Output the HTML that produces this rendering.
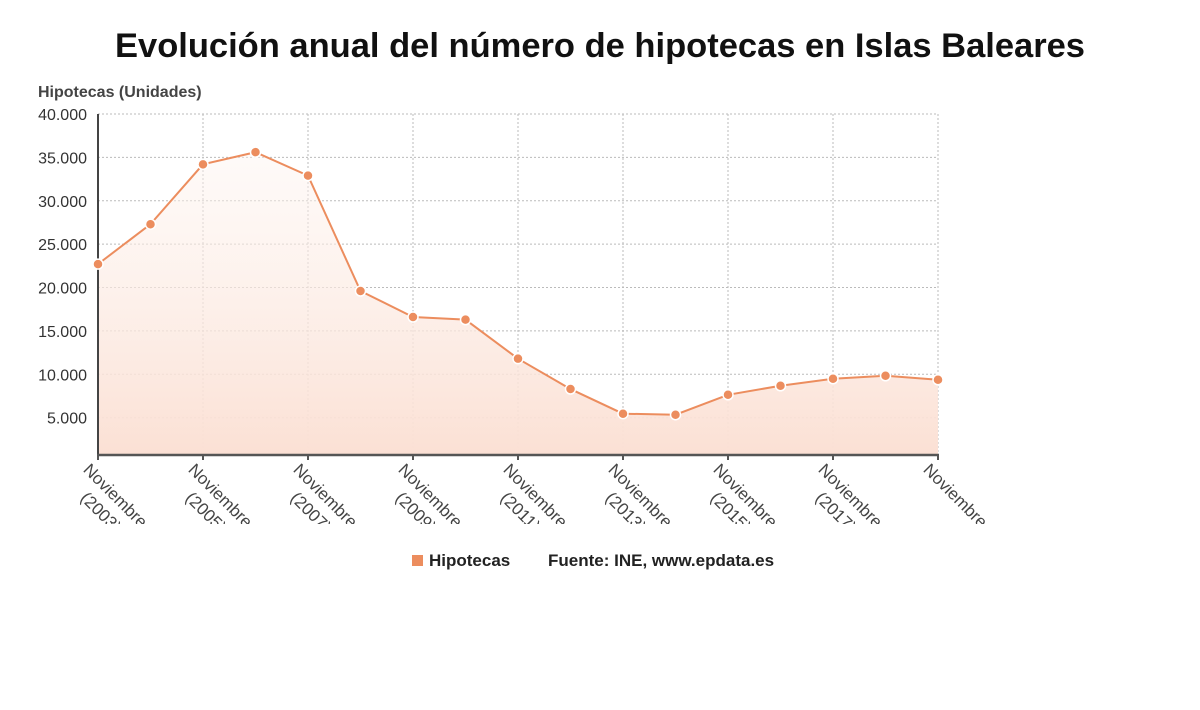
<!DOCTYPE html>
<html><head><meta charset="utf-8"><style>
body{margin:0;background:#fff;width:1200px;height:705px;overflow:hidden;font-family:"Liberation Sans",sans-serif}
</style></head><body>
<svg id="c" width="1200" height="705">
<defs>
<linearGradient id="g" x1="0" y1="0" x2="0" y2="1"><stop offset="0" stop-color="#fdf3ee" stop-opacity="0.4"/><stop offset="1" stop-color="#fbe0d4"/></linearGradient>
<clipPath id="lc"><rect x="0" y="456" width="1200" height="68"/></clipPath>
</defs>
<text x="600" y="57" text-anchor="middle" font-size="34" font-weight="bold" fill="#111" textLength="970" lengthAdjust="spacingAndGlyphs">Evolución anual del número de hipotecas en Islas Baleares</text>
<text x="38" y="97" font-size="16" font-weight="600" fill="#444">Hipotecas (Unidades)</text>
<g id="grid"></g><g id="plot"></g><g id="xl" clip-path="url(#lc)"></g>
<g>
<rect x="412" y="555" width="11" height="11" fill="#ec8d5e"/>
<text x="429" y="566" font-size="17" font-weight="600" fill="#222">Hipotecas</text>
<text x="548" y="566" font-size="17" font-weight="600" fill="#222">Fuente: INE, www.epdata.es</text>
</g>
</svg>
<script>
const years=[2003,2004,2005,2006,2007,2008,2009,2010,2011,2012,2013,2014,2015,2016,2017,2018,2019];
const values=[22700,27300,34200,35600,32900,19600,16600,16300,11800,8300,5460,5340,7640,8680,9490,9830,9370];
const yTicks=[5000,10000,15000,20000,25000,30000,35000,40000];
const xLabelYears=[2003,2005,2007,2009,2011,2013,2015,2017,2019];
const NS='http://www.w3.org/2000/svg';
const X0=98,X1=938,Y0=455,Y40=114,yMin=700;
const xs=i=>X0+(X1-X0)*i/(years.length-1);
const ys=v=>Y0-(v-yMin)*(Y0-Y40)/(40000-yMin);
function mk(t,a,p){const e=document.createElementNS(NS,t);for(const k in a)e.setAttribute(k,a[k]);p.appendChild(e);return e;}
const grid=document.getElementById('grid'),plot=document.getElementById('plot'),xl=document.getElementById('xl');
const fmt=v=>v.toLocaleString('de-DE');
yTicks.forEach(v=>{const y=ys(v);
 const l=mk('line',{x1:X0,x2:X1,y1:y,y2:y,stroke:'#bbb','stroke-dasharray':'2,2'},grid);
 
 
 const t=mk('text',{x:87,y:y+6,'text-anchor':'end','font-size':16,fill:'#333'},grid);t.textContent=fmt(v);
 
 
});
years.forEach((yr,i)=>{if(i%2===0&&i>0){const l=mk('line',{x1:xs(i),x2:xs(i),y1:Y40,y2:Y0,stroke:'#bbb','stroke-dasharray':'2,2'},grid);
 
 }});
let pts=values.map((v,i)=>xs(i)+','+ys(v)).join(' ');
const area=mk('polygon',{points:X0+','+Y0+' '+pts+' '+X1+','+Y0,fill:'url(#g)'},plot);


const ax=mk('line',{x1:X0,x2:X0,y1:Y40,y2:Y0,stroke:'#444','stroke-width':2},plot);


const bx=mk('line',{x1:X0-1,x2:X1+1,y1:Y0,y2:Y0,stroke:'#555','stroke-width':2.5},plot);


const line=mk('polyline',{points:pts,fill:'none',stroke:'#ec8d5e','stroke-width':2},plot);


values.forEach((v,i)=>{const c=mk('circle',{cx:xs(i),cy:ys(v),r:5,fill:'#ec8d5e',stroke:'#fff','stroke-width':1.5},plot);
 
 });
xLabelYears.forEach((yr,k)=>{const i=years.indexOf(yr);const x=xs(i);
 const tk=mk('line',{x1:x,x2:x,y1:Y0,y2:Y0+5,stroke:'#555','stroke-width':2},plot);
 
 
 const t=mk('text',{transform:`translate(${x-6},${Y0+6}) rotate(45)`,'font-size':17,fill:'#444'},xl);
 
 
 const a=mk('tspan',{x:0,dy:'0.8em'},t);a.textContent='Noviembre';
 if(k<xLabelYears.length-1){const b=mk('tspan',{x:18,dy:'22px'},t);b.textContent='('+yr+')';}
});
</script>
</body></html>
